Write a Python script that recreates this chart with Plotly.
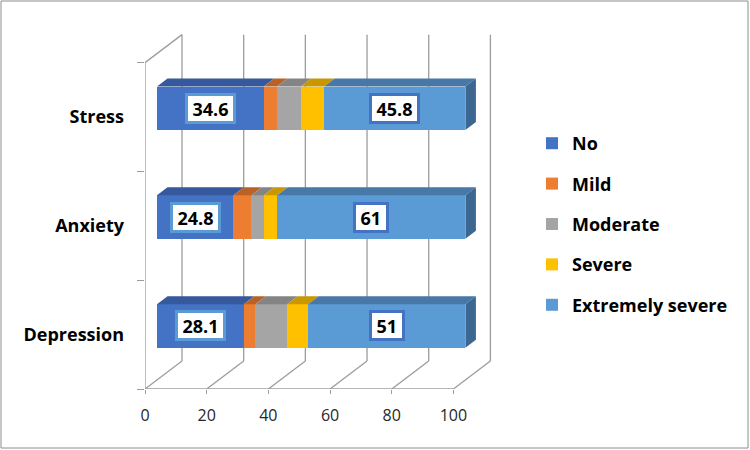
import plotly.graph_objects as go

categories = ["Depression", "Anxiety", "Stress"]
series_names = ["No", "Mild", "Moderate", "Severe", "Extremely severe"]
no = [28.1, 24.8, 34.6]
mild = [3.8, 5.8, 4.3]
moderate = [10.3, 4.0, 7.7]
severe = [6.8, 4.4, 7.6]
extreme = [51, 61, 45.8]
x_ticks = [0, 20, 40, 60, 80, 100]

values = [no, mild, moderate, severe, extreme]
front_colors = ["#4472C4", "#ED7D31", "#A5A5A5", "#FFC000", "#5B9BD5"]
top_colors = ["#35599C", "#BA6125", "#848484", "#C99700", "#4878A8"]
side_color = "#3B6790"
label_series = {0: "#5B9BD5", 4: "#4472C4"}  # series that get data labels -> box border colour

FONT = "Open Sans"

# pixel geometry
W, H = 750, 450
ML, MR, MT, MB = 145, 255, 30, 61
PW, PH = W - ML - MR, H - MT - MB
PX_X = 3.084                      # px per x unit
X0 = -12 / PX_X                   # floor front "0" sits 12px left of bar start
YR = [-0.5, 2.8]
PX_Y = PH / (YR[1] - YR[0])
WALL_DX, WALL_DY = 37 / PX_X, 28 / PX_Y
BAR_DX, BAR_DY = 10.5 / PX_X, 8 / PX_Y
BAR_W, BAR_SHIFT = 0.4, 0.08

fig = go.Figure()

ypos = list(range(len(categories)))
cum = [0.0] * len(categories)
starts = []
for i, (name, vals) in enumerate(zip(series_names, values)):
    starts.append(list(cum))
    fig.add_trace(go.Bar(
        x=vals, y=ypos, base=cum, orientation="h", name=name,
        marker=dict(color=front_colors[i], line=dict(width=0)),
        width=BAR_W, offset=-BAR_W / 2 + BAR_SHIFT,
        legendgroup=name, hoverinfo="skip",
    ))
    # top face
    xs, ys = [], []
    for c in ypos:
        s, e = cum[c], cum[c] + vals[c]
        yt = c - BAR_W / 2 + BAR_SHIFT + BAR_W
        xs += [s, e, e + BAR_DX, s + BAR_DX, s, None]
        ys += [yt, yt, yt + BAR_DY, yt + BAR_DY, yt, None]
    fig.add_trace(go.Scatter(x=xs, y=ys, fill="toself", fillcolor=top_colors[i],
                             mode="lines", line=dict(width=0), showlegend=False,
                             hoverinfo="skip"))
    cum = [cum[c] + vals[c] for c in ypos]

# right side face of the stacks
xs, ys = [], []
for c in ypos:
    e = cum[c]
    yb = c - BAR_W / 2 + BAR_SHIFT
    yt = yb + BAR_W
    xs += [e, e, e + BAR_DX, e + BAR_DX, e, None]
    ys += [yb, yt, yt + BAR_DY, yb + BAR_DY, yb, None]
fig.add_trace(go.Scatter(x=xs, y=ys, fill="toself", fillcolor=side_color,
                         mode="lines", line=dict(width=0), showlegend=False,
                         hoverinfo="skip"))

# data labels (box width follows the text, roughly)
for i, border in label_series.items():
    for c in ypos:
        v = values[i][c]
        txt = "%g" % v
        tw = 10.3 * sum(ch.isdigit() for ch in txt) + 5.2 * txt.count(".")
        fig.add_annotation(
            x=starts[i][c] + v / 2, y=c + BAR_SHIFT, text="<b>%s</b>" % txt,
            showarrow=False, font=dict(size=18, color="black", family=FONT),
            width=tw + 5, height=21,
            bgcolor="white", bordercolor=border, borderwidth=3, borderpad=2,
        )

# 3D walls / floor
grid = dict(color="#9C9C9C", width=1.3)
shapes = []
ytop = YR[0] + len(categories)
shapes.append(dict(type="line", x0=X0, x1=X0, y0=YR[0], y1=ytop, line=grid))
shapes.append(dict(type="line", x0=X0, x1=X0 + WALL_DX, y0=ytop, y1=ytop + WALL_DY, line=grid))
for v in x_ticks:
    shapes.append(dict(type="line", x0=X0 + v + WALL_DX, x1=X0 + v + WALL_DX,
                       y0=YR[0] + WALL_DY, y1=ytop + WALL_DY, line=grid))
    shapes.append(dict(type="line", x0=X0 + v, x1=X0 + v + WALL_DX,
                       y0=YR[0], y1=YR[0] + WALL_DY, line=grid))
shapes.append(dict(type="line", x0=X0, x1=X0 + x_ticks[-1], y0=YR[0], y1=YR[0], line=grid))
for s in shapes:
    s.update(xref="x", yref="y", layer="below")

# outer border
shapes.append(dict(type="rect", xref="paper", yref="paper", layer="above",
                   x0=(1 - ML) / PW, x1=(W - 2 - ML) / PW,
                   y0=(H - MB - (H - 2)) / PH, y1=(H - MB - 1) / PH,
                   line=dict(color="#8C8C8C", width=1)))

fig.update_layout(
    width=W, height=H, barmode="stack",
    margin=dict(l=ML, r=MR, t=MT, b=MB),
    paper_bgcolor="white", plot_bgcolor="white",
    font=dict(family=FONT, color="black"),
    shapes=shapes,
    showlegend=True,
    legend=dict(x=(532 - ML) / PW, y=(H - MB - 125) / PH, xanchor="left", yanchor="top",
                font=dict(size=18, family=FONT, color="black", weight="bold"),
                tracegroupgap=14, itemwidth=30, bgcolor="rgba(0,0,0,0)"),
    xaxis=dict(range=[X0, X0 + PW / PX_X], showgrid=False, zeroline=False, showline=False,
               tickvals=[X0 + v for v in x_ticks], ticktext=[str(v) for v in x_ticks],
               ticks="outside", ticklen=4, tickcolor="#9C9C9C", tickwidth=1.3,
               ticklabelstandoff=8,
               tickfont=dict(size=16, color="#262626", family=FONT)),
    yaxis=dict(range=YR, showgrid=False, zeroline=False, showline=False,
               tickvals=ypos, ticktext=categories, ticks="",
               ticklabelstandoff=20,
               tickfont=dict(size=18, color="black", family=FONT, weight="bold"),
               minor=dict(tickvals=[YR[0] + k for k in range(len(categories) + 1)],
                          ticks="outside", ticklen=7, tickcolor="#9C9C9C", tickwidth=1.3)),
)

fig.write_html("out.html", config={"displayModeBar": False},
               post_script="document.body.style.margin='0';")
